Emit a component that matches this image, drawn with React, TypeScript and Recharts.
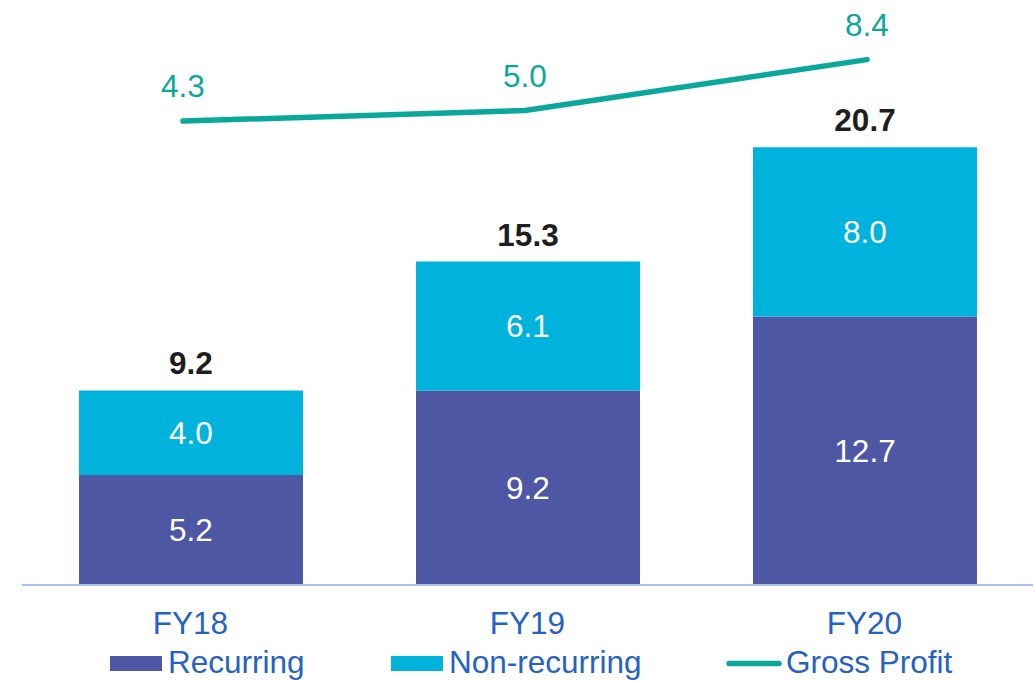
import React from 'react';
import { ComposedChart, Bar, Line, XAxis, YAxis, Legend, LabelList } from 'recharts';

const years = ['FY18', 'FY19', 'FY20'];
const recurring = [5.2, 9.2, 12.7];
const nonRecurring = [4.0, 6.1, 8.0];
const grossProfit = [4.3, 5.0, 8.4];

const seriesNames = { recurring: 'Recurring', nonRecurring: 'Non-recurring', gross: 'Gross Profit' };

const COLORS = {
  recurring: '#4d57a3',
  nonRecurring: '#00b3dd',
  gross: '#0aa89a',
  axis: '#a8c4ea',
  text: '#2662c3',
  total: '#1e1e1e',
};

const FONT = '"Liberation Sans", Arial, sans-serif';
const FS = 31.5;

const data = years.map((year, i) => ({
  year,
  recurring: recurring[i],
  nonRecurring: nonRecurring[i],
  total: Math.round((recurring[i] + nonRecurring[i]) * 10) / 10,
  gross: grossProfit[i],
}));

const fmt = (v: any) => Number(v).toFixed(1);

// legend drawn as one svg strip so the items sit where they do in the slide
const LegendStrip = () => (
  <svg width={1035} height={34} style={{ display: 'block', overflow: 'visible' }}>
    <rect x={110} y={9} width={52} height={15} fill={COLORS.recurring} />
    <text x={168} y={25.5} fontSize={FS} fill={COLORS.text} fontFamily={FONT}>{seriesNames.recurring}</text>
    <rect x={391} y={9} width={52} height={15} fill={COLORS.nonRecurring} />
    <text x={449} y={25.5} fontSize={FS} fill={COLORS.text} fontFamily={FONT}>{seriesNames.nonRecurring}</text>
    <line x1={729} y1={16.5} x2={779} y2={16.5} stroke={COLORS.gross} strokeWidth={5.5} strokeLinecap="round" />
    <text x={786} y={25.5} fontSize={FS} fill={COLORS.text} fontFamily={FONT}>{seriesNames.gross}</text>
  </svg>
);

export default function App() {
  return (
    <div style={{ position: 'absolute', left: 0, top: 0, width: 1035, height: 681, background: '#fff', fontFamily: FONT }}>
      <ComposedChart width={1035} height={681} data={data} margin={{ top: 11, right: 2, left: 22, bottom: 0 }}>
        <XAxis
          xAxisId="bars"
          dataKey="year"
          height={62}
          axisLine={{ stroke: COLORS.axis, strokeWidth: 2 }}
          tickLine={false}
          tickSize={0}
          tickMargin={26.5}
          tick={{ fill: COLORS.text, fontSize: FS, fontFamily: FONT }}
        />
        <XAxis xAxisId="line" dataKey="year" scale="point" padding={{ left: 161, right: 166 }} hide />
        <YAxis yAxisId="left" domain={[0, 27.15]} allowDataOverflow hide />
        <YAxis yAxisId="right" orientation="right" domain={[-26.63, 11.64]} allowDataOverflow hide />
        <Legend verticalAlign="bottom" wrapperStyle={{ left: 0, bottom: 0, width: 1035 }} content={() => <LegendStrip />} />
        <Bar xAxisId="bars" yAxisId="left" dataKey="recurring" name={seriesNames.recurring} stackId="a" fill={COLORS.recurring} barSize={224} isAnimationActive={false}>
          <LabelList dataKey="recurring" position="center" fill="#ffffff" fontSize={FS} fontFamily={FONT} formatter={fmt} />
        </Bar>
        <Bar xAxisId="bars" yAxisId="left" dataKey="nonRecurring" name={seriesNames.nonRecurring} stackId="a" fill={COLORS.nonRecurring} barSize={224} isAnimationActive={false}>
          <LabelList dataKey="nonRecurring" position="center" fill="#ffffff" fontSize={FS} fontFamily={FONT} formatter={fmt} />
          <LabelList dataKey="total" position="top" offset={16} fill={COLORS.total} fontSize={FS} fontWeight="bold" fontFamily={FONT} formatter={fmt} />
        </Bar>
        <Line
          xAxisId="line"
          yAxisId="right"
          type="linear"
          dataKey="gross"
          name={seriesNames.gross}
          stroke={COLORS.gross}
          strokeWidth={5.5}
          strokeLinecap="round"
          dot={false}
          activeDot={false}
          isAnimationActive={false}
        >
          <LabelList dataKey="gross" position="top" offset={24} fill={COLORS.gross} fontSize={FS} fontFamily={FONT} formatter={fmt} />
        </Line>
      </ComposedChart>
    </div>
  );
}
